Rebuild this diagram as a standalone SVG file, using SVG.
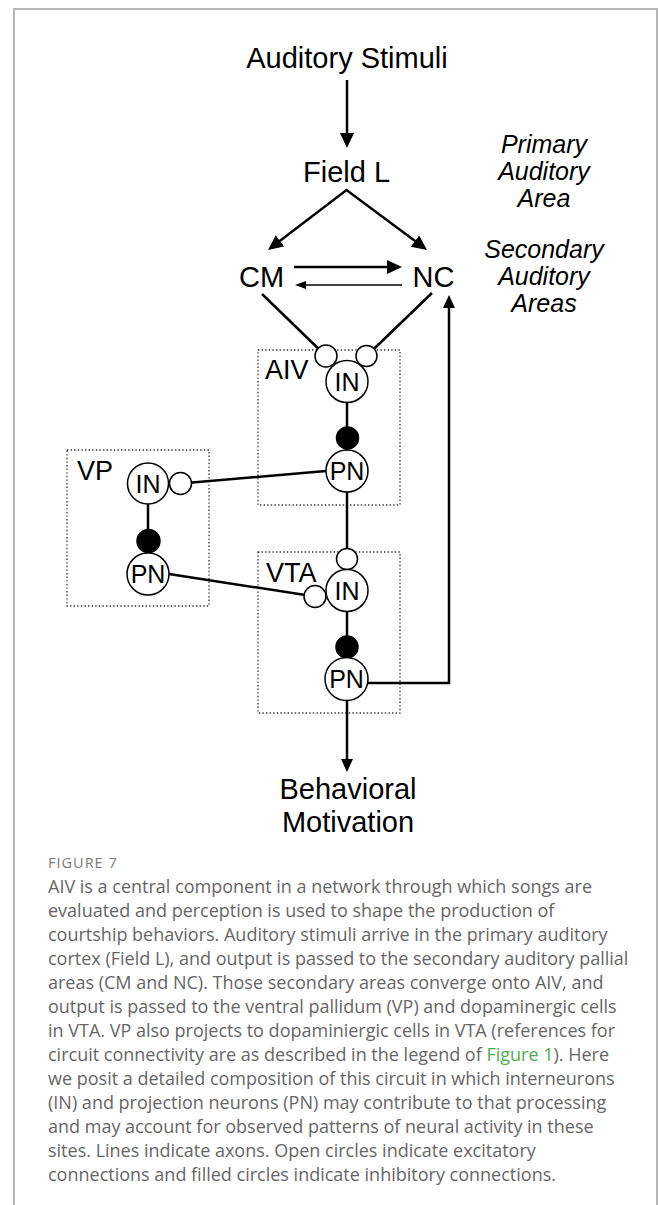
<svg xmlns="http://www.w3.org/2000/svg" width="659" height="1205" viewBox="0 0 659 1205">
<style>
.lbl{font-family:"Liberation Sans",Arial,sans-serif;fill:#000}
.big{font-size:29px;text-anchor:middle}
.ital{font-size:25px;font-style:italic;text-anchor:middle}
.box{font-size:27px}
.cell{font-size:25px;text-anchor:middle}
.ln{stroke:#000;stroke-width:2.5;fill:none}
.thin{stroke:#000;stroke-width:1.6;fill:none}
.dot{fill:none;stroke:#333;stroke-width:1.3;stroke-dasharray:1.4 2.2}
.open{fill:#fff;stroke:#000;stroke-width:1.5}
.fill{fill:#000;stroke:#000;stroke-width:1.5}
.cap{font-family:"Open Sans","Liberation Sans",sans-serif;font-size:18px;fill:#666}
.frame{stroke:#b5b5b5;stroke-width:2;fill:none}
</style>
<defs>
<marker id="ah" markerUnits="userSpaceOnUse" markerWidth="16" markerHeight="16" refX="11" refY="7" orient="auto-start-reverse"><path d="M0,0 L15,7 L0,14 z" fill="#000"/></marker>
<marker id="ahm" markerUnits="userSpaceOnUse" markerWidth="14" markerHeight="14" refX="9" refY="6" orient="auto-start-reverse"><path d="M0,0 L13,6 L0,12 z" fill="#000"/></marker>
<marker id="ahs" markerUnits="userSpaceOnUse" markerWidth="12" markerHeight="10" refX="8" refY="4" orient="auto"><path d="M0,0 L11,4 L0,8 z" fill="#000"/></marker>
</defs>

<g id="frame">
<path class="frame" d="M14,1205 L14,9 L657,9 L657,1205"/>
</g>

<g id="regions">
<rect id="AIV-box" class="dot" x="258" y="350" width="142" height="155"/>
<rect id="VP-box" class="dot" x="67" y="450" width="142" height="156"/>
<rect id="VTA-box" class="dot" x="258" y="552" width="142" height="161"/>
</g>

<g id="connectors">
<line class="ln" x1="347" y1="80" x2="347" y2="144" marker-end="url(#ah)"/>
<path class="ln" d="M271.2,247.6 L346.5,190 L423.8,247.6" marker-start="url(#ah)" marker-end="url(#ah)"/>
<line class="ln" x1="294" y1="267" x2="398" y2="267" marker-end="url(#ah)"/>
<line class="thin" x1="402" y1="285" x2="298" y2="285" marker-end="url(#ahs)"/>
<line class="ln" x1="262" y1="294" x2="326" y2="356"/>
<line class="ln" x1="432" y1="293" x2="366.5" y2="356"/>
<line class="ln" x1="347" y1="381" x2="347" y2="559"/>
<line class="ln" x1="326" y1="471" x2="180.5" y2="483.5"/>
<line class="ln" x1="148" y1="483" x2="148" y2="574"/>
<line class="ln" x1="169" y1="574" x2="315" y2="596.5"/>
<line class="ln" x1="347" y1="590" x2="347" y2="679"/>
<line class="ln" x1="347" y1="679" x2="347" y2="768" marker-end="url(#ahm)"/>
<path class="ln" d="M366,683 L449,683 L449,299" marker-end="url(#ahm)"/>
</g>

<g id="labels">
<text class="lbl big" x="347" y="68">Auditory Stimuli</text>
<text class="lbl big" x="346.5" y="182">Field L</text>
<text class="lbl big" x="261.5" y="287">CM</text>
<text class="lbl big" x="433.5" y="287">NC</text>
<text class="lbl ital" x="544" y="153">Primary</text>
<text class="lbl ital" x="544" y="180">Auditory</text>
<text class="lbl ital" x="544" y="207">Area</text>
<text class="lbl ital" x="544" y="258">Secondary</text>
<text class="lbl ital" x="544" y="285">Auditory</text>
<text class="lbl ital" x="544" y="312">Areas</text>
<text class="lbl big" x="348" y="799">Behavioral</text>
<text class="lbl big" x="348" y="832">Motivation</text>
</g>

<g id="AIV">
<text class="lbl box" x="265" y="379">AIV</text>
<circle class="open" cx="326" cy="356" r="11"/>
<circle class="open" cx="366.5" cy="356" r="10.5"/>
<g id="AIV-IN"><circle class="open" cx="347" cy="381.5" r="21"/><text class="lbl cell" x="347" y="390.5">IN</text></g>
<circle class="fill" cx="347.5" cy="438" r="11"/>
<g id="AIV-PN"><circle class="open" cx="347" cy="471" r="21"/><text class="lbl cell" x="347" y="480">PN</text></g>
</g>

<g id="VP">
<text class="lbl box" x="77" y="480">VP</text>
<g id="VP-IN"><circle class="open" cx="148" cy="483.5" r="20.5"/><text class="lbl cell" x="148" y="492.5">IN</text></g>
<circle class="open" cx="180.5" cy="483.5" r="11"/>
<circle class="fill" cx="148.5" cy="541" r="11.5"/>
<g id="VP-PN"><circle class="open" cx="148" cy="574" r="21"/><text class="lbl cell" x="148" y="583">PN</text></g>
</g>

<g id="VTA">
<text class="lbl box" x="266" y="582">VTA</text>
<circle class="open" cx="347" cy="559" r="10.5"/>
<circle class="open" cx="315" cy="596.5" r="11"/>
<g id="VTA-IN"><circle class="open" cx="347" cy="590.5" r="21"/><text class="lbl cell" x="347" y="599.5">IN</text></g>
<circle class="fill" cx="347" cy="647" r="11"/>
<g id="VTA-PN"><circle class="open" cx="346.5" cy="679" r="21.5"/><text class="lbl cell" x="346.5" y="688">PN</text></g>
</g>

<g id="caption">
<text x="48" y="868" style="font-family:'Open Sans','Liberation Sans',sans-serif;font-size:14.5px;fill:#7a7a7a;letter-spacing:1px">FIGURE 7</text>
<text class="cap" x="48" y="893">AIV is a central component in a network through which songs are</text>
<text class="cap" x="48" y="917">evaluated and perception is used to shape the production of</text>
<text class="cap" x="48" y="941">courtship behaviors. Auditory stimuli arrive in the primary auditory</text>
<text class="cap" x="48" y="965">cortex (Field L), and output is passed to the secondary auditory pallial</text>
<text class="cap" x="48" y="989">areas (CM and NC). Those secondary areas converge onto AIV, and</text>
<text class="cap" x="48" y="1013">output is passed to the ventral pallidum (VP) and dopaminergic cells</text>
<text class="cap" x="48" y="1037">in VTA. VP also projects to dopaminiergic cells in VTA (references for</text>
<text class="cap" x="48" y="1061">circuit connectivity are as described in the legend of <tspan fill="#4cae4c">Figure 1</tspan>). Here</text>
<text class="cap" x="48" y="1085">we posit a detailed composition of this circuit in which interneurons</text>
<text class="cap" x="48" y="1109">(IN) and projection neurons (PN) may contribute to that processing</text>
<text class="cap" x="48" y="1133">and may account for observed patterns of neural activity in these</text>
<text class="cap" x="48" y="1157">sites. Lines indicate axons. Open circles indicate excitatory</text>
<text class="cap" x="48" y="1181">connections and filled circles indicate inhibitory connections.</text>
</g>
</svg>
